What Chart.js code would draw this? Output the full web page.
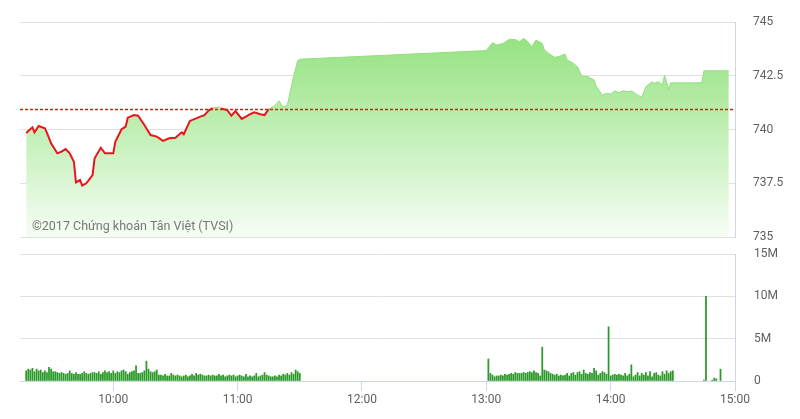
<!DOCTYPE html>
<html>
<head>
<meta charset="utf-8">
<script src="https://cdn.jsdelivr.net/npm/chart.js@4.4.0/dist/chart.umd.min.js"></script>
<style>
  html, body { margin: 0; padding: 0; background: #fff; overflow: hidden; }
  #wrap { position: relative; width: 800px; height: 419px; }
  #priceChart { position: absolute; left: 0; top: 0; }
  #volChart { position: absolute; left: 0; top: 245px; }
</style>
</head>
<body>
<div id="wrap">
  <canvas id="priceChart" width="800" height="245"></canvas>
  <canvas id="volChart" width="800" height="174"></canvas>
</div>
<script>
// reference (previous close)
const refPrice = 740.93;

// intraday index
const priceTimes = [
  '09:18', '09:19', '09:21', '09:22', '09:24', '09:27', '09:28', '09:30', '09:33', '09:35',
  '09:37', '09:39', '09:41', '09:42', '09:44', '09:45', '09:47', '09:50', '09:51', '09:54',
  '09:56', '10:00', '10:01', '10:04', '10:06', '10:07', '10:10', '10:12', '10:15', '10:18',
  '10:21', '10:24', '10:27', '10:30', '10:33', '10:34', '10:37', '10:40', '10:42', '10:44',
  '10:46', '10:48', '10:51', '10:52', '10:55', '10:57', '10:59', '11:02', '11:04', '11:06',
  '11:08', '11:11', '11:13', '11:15', '11:18', '11:20', '11:22', '11:24', '11:27', '11:29',
  '11:30', '13:00', '13:03', '13:05', '13:08', '13:11', '13:14', '13:16', '13:18', '13:20',
  '13:22', '13:24', '13:27', '13:28', '13:30', '13:33', '13:35', '13:38', '13:39', '13:42',
  '13:44', '13:46', '13:49', '13:52', '13:53', '13:56', '13:58', '14:00', '14:02', '14:04',
  '14:06', '14:09', '14:10', '14:13', '14:15', '14:17', '14:20', '14:21', '14:23', '14:25',
  '14:26', '14:28', '14:29', '14:44', '14:45', '14:57'
];
const priceValues = [
  739.84, 739.93, 740.10, 739.87, 740.16, 740.06, 739.84, 739.36, 738.89, 738.97,
  739.09, 738.89, 738.50, 737.54, 737.65, 737.39, 737.50, 737.88, 738.66, 739.15,
  738.89, 738.89, 739.43, 740.01, 740.13, 740.55, 740.67, 740.64, 740.21, 739.74,
  739.67, 739.47, 739.59, 739.62, 739.87, 739.78, 740.40, 740.52, 740.60, 740.67,
  740.88, 741.00, 741.05, 740.98, 740.90, 740.64, 740.86, 740.49, 740.60, 740.71,
  740.80, 740.71, 740.67, 740.95, 741.11, 741.33, 741.03, 741.14, 742.46, 743.20,
  743.27, 743.67, 744.04, 743.93, 744.00, 744.19, 744.19, 744.08, 744.24, 744.08,
  743.85, 744.16, 744.00, 743.70, 743.54, 743.36, 743.39, 743.51, 743.23, 743.08,
  742.92, 742.49, 742.46, 742.30, 742.02, 741.60, 741.68, 741.65, 741.80, 741.71,
  741.80, 741.76, 741.80, 741.60, 741.50, 741.99, 742.22, 742.15, 742.22, 742.07,
  742.53, 741.87, 742.17, 742.17, 742.73, 742.73
];

// volume, millions, one bar per minute
const amStart = '09:18';
const amVolumes = [
  1.2, 1.4, 1.3, 1.5, 1.1, 1.4, 1.2, 1.3, 1.0, 1.2,
  1.0, 1.6, 1.4, 1.1, 1.1, 1.0, 0.9, 1.0, 0.9, 0.8,
  0.9, 1.2, 0.9, 0.8, 1.0, 0.8, 0.8, 0.9, 1.1, 0.9,
  0.8, 0.9, 1.0, 1.0, 0.9, 1.1, 0.8, 1.0, 1.2, 1.0,
  1.1, 0.9, 1.2, 0.9, 1.1, 1.0, 1.2, 1.3, 1.1, 0.8,
  1.0, 1.1, 1.2, 1.8, 0.9, 0.9, 1.0, 1.2, 2.35, 1.4,
  1.1, 1.0, 1.1, 1.3, 0.7, 0.7, 0.6, 0.8, 0.6, 0.6,
  0.9, 0.7, 0.6, 0.7, 0.6, 0.5, 0.6, 0.7, 0.5, 0.6,
  0.8, 0.6, 0.9, 0.7, 0.8, 0.7, 0.6, 0.6, 0.7, 0.6,
  0.7, 0.6, 0.6, 0.8, 0.6, 0.7, 0.5, 0.6, 0.7, 0.6,
  0.7, 0.5, 0.6, 0.7, 0.6, 0.5, 0.8, 0.5, 0.6, 0.5,
  0.6, 0.9, 0.5, 0.6, 0.7, 1.0, 0.7, 0.6, 0.5, 0.5,
  0.6, 0.5, 0.7, 0.6, 0.8, 0.7, 0.9, 0.7, 1.0, 0.8,
  1.3, 1.1, 0.9
];
const pmStart = '13:01';
const pmVolumes = [
  2.6, 0.9, 0.7, 0.5, 0.6, 0.6, 0.7, 0.6, 0.8, 0.7,
  0.8, 0.9, 0.8, 1.0, 0.9, 0.9, 0.9, 1.0, 0.9, 1.0,
  1.1, 1.0, 1.2, 1.0, 0.9, 0.6, 4.0, 1.3, 1.2, 1.1,
  0.9, 0.8, 0.7, 0.8, 0.6, 0.7, 0.6, 0.7, 0.9, 0.6,
  0.9, 1.0, 0.7, 1.0, 1.1, 0.8, 1.3, 0.9, 0.8, 1.0,
  0.9, 1.5, 1.2, 0.7, 0.9, 1.1, 1.0, 0.8, 6.4, 0.6,
  0.7, 0.8, 0.7, 0.8, 0.7, 0.6, 0.9, 0.6, 0.8, 1.9,
  0.5, 0.7, 1.0, 0.6, 0.9, 0.7, 1.0, 0.6, 1.1, 0.5,
  0.9, 1.0, 0.7, 0.6, 1.1, 0.8, 1.2, 0.9, 1.1, 1.2
];
const lateTimes = ['14:45', '14:46', '14:49', '14:50', '14:51', '14:53'];
const lateVolumes = [0.1, 10.0, 0.1, 0.35, 0.25, 1.4];

const hourTicks = ['10:00', '11:00', '12:00', '13:00', '14:00', '15:00'];
const priceTicks = [735, 737.5, 740, 742.5, 745];
const volTicks = [0, 5, 10, 15];

const watermark = '©2017 Chứng khoán Tân Việt (TVSI)';

const toMin = t => { const p = t.split(':'); return +p[0] * 60 + +p[1]; };
const fmtMin = v => String(Math.floor(v / 60)).padStart(2, '0') + ':' + String(v % 60).padStart(2, '0');

const xMin = toMin('09:15');
const xMax = toMin('15:00');
const hourVals = hourTicks.map(toMin);

const pricePoints = priceTimes.map((t, i) => ({ x: toMin(t), y: priceValues[i] }));
const volPoints = []
  .concat(amVolumes.map((v, i) => ({ x: toMin(amStart) + i, y: v })))
  .concat(pmVolumes.map((v, i) => ({ x: toMin(pmStart) + i, y: v })))
  .concat(lateTimes.map((t, i) => ({ x: toMin(t), y: lateVolumes[i] })));

Chart.defaults.font.family = 'Roboto, "Noto Sans", sans-serif';
Chart.defaults.font.size = 12;
Chart.defaults.color = '#666';

const RED = '#e8161b';
const GREEN_EDGE = '#8fe07d';
const AXIS = '#ccd6eb';
const GRID = '#e0e0e0';
const below = c => c.p0.parsed.y < refPrice || c.p1.parsed.y < refPrice;

// right axis: fixed width, and no extra label padding pushing the plot area
const fixRightAxis = s => { s.width = 65; s.paddingTop = 0; s.paddingBottom = 0; };

const watermarkPlugin = {
  id: 'watermark',
  afterDatasetsDraw(chart) {
    const ctx = chart.ctx;
    ctx.save();
    ctx.font = '12.5px Roboto, sans-serif';
    ctx.fillStyle = '#777';
    ctx.textBaseline = 'middle';
    ctx.fillText(watermark, chart.chartArea.left + 12, 227);
    ctx.restore();
  }
};

function greenFill(context) {
  const area = context.chart.chartArea;
  if (!area) return '#b8eeaa';
  const g = context.chart.ctx.createLinearGradient(0, area.top, 0, area.bottom);
  g.addColorStop(0, '#8ee07a');
  g.addColorStop(0.5, '#c0efb4');
  g.addColorStop(1, '#f6fdf4');
  return g;
}

new Chart(document.getElementById('priceChart'), {
  type: 'line',
  data: {
    datasets: [
      {
        // area
        data: pricePoints,
        fill: 'start',
        backgroundColor: greenFill,
        borderWidth: 0,
        pointRadius: 0,
        tension: 0,
        order: 3
      },
      {
        // price line, red under reference
        data: pricePoints,
        fill: false,
        borderColor: GREEN_EDGE,
        borderWidth: 1,
        pointRadius: 0,
        tension: 0,
        segment: {
          borderColor: c => below(c) ? RED : GREEN_EDGE,
          borderWidth: c => below(c) ? 2 : 1
        },
        order: 2
      },
      {
        data: [{ x: xMin, y: refPrice }, { x: xMax, y: refPrice }],
        borderColor: '#ee1111',
        borderWidth: 1.3,
        borderDash: [3, 2],
        pointRadius: 0,
        fill: false,
        order: 1
      }
    ]
  },
  options: {
    responsive: false,
    animation: false,
    layout: { padding: { left: 20, top: 22, right: 0, bottom: 8 } },
    plugins: { legend: { display: false }, tooltip: { enabled: false } },
    scales: {
      x: { type: 'linear', min: xMin, max: xMax, display: false },
      y: {
        position: 'right',
        min: 735,
        max: 745,
        afterFit: fixRightAxis,
        afterBuildTicks: s => { s.ticks = priceTicks.map(v => ({ value: v })); },
        ticks: { padding: 18, color: '#5f5f5f', callback: v => String(v) },
        grid: { color: GRID, drawTicks: false },
        border: { display: true, color: AXIS }
      }
    }
  },
  plugins: [watermarkPlugin]
});

new Chart(document.getElementById('volChart'), {
  type: 'bar',
  data: {
    datasets: [{
      data: volPoints,
      backgroundColor: '#2a992a',
      barThickness: 1.1
    }]
  },
  options: {
    responsive: false,
    animation: false,
    layout: { padding: { left: 20, top: 9, right: 0, bottom: 0 } },
    plugins: { legend: { display: false }, tooltip: { enabled: false } },
    scales: {
      x: {
        type: 'linear',
        min: xMin,
        max: xMax,
        offset: false,
        afterFit: s => { s.height = 38; },
        afterBuildTicks: s => { s.ticks = hourVals.map(v => ({ value: v })); },
        ticks: { padding: 2, color: '#5f5f5f', maxRotation: 0, autoSkip: false, callback: v => fmtMin(v) },
        grid: { drawOnChartArea: false, drawTicks: true, tickLength: 10, color: AXIS, offset: false },
        border: { display: true, color: AXIS }
      },
      y: {
        position: 'right',
        min: 0,
        max: 15,
        afterFit: fixRightAxis,
        afterBuildTicks: s => { s.ticks = volTicks.map(v => ({ value: v })); },
        ticks: { padding: 19, color: '#5f5f5f', callback: v => v === 0 ? '0' : v + 'M' },
        grid: { color: GRID, drawTicks: false },
        border: { display: true, color: AXIS }
      }
    }
  }
});
</script>
</body>
</html>
